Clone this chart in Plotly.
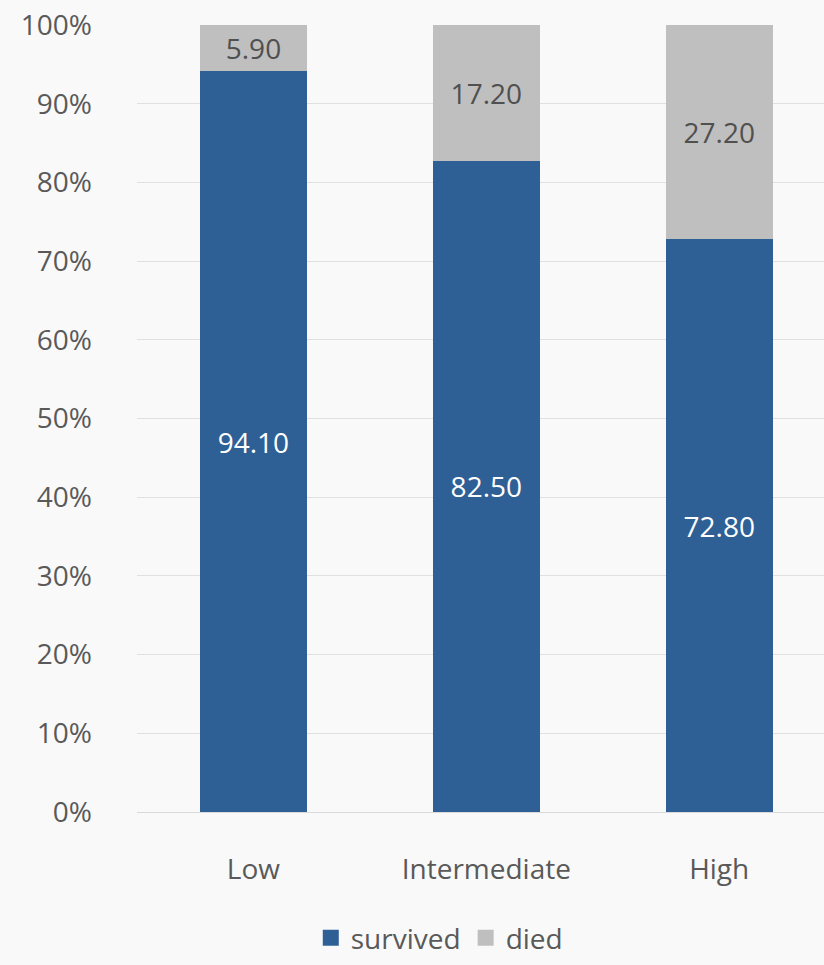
import plotly.graph_objects as go

categories = ["Low", "Intermediate", "High"]
survived = [94.10, 82.50, 72.80]
died = [5.90, 17.20, 27.20]
y_ticks = [0, 10, 20, 30, 40, 50, 60, 70, 80, 90, 100]
y_tick_labels = [f"{v}%" for v in y_ticks]

FONT = "Open Sans"
TXT = "#595959"
BG = "#f9f9f9"
FS = 28
BLUE = "#2e6096"
GRAY = "#bfbfbf"

fig = go.Figure()
fig.add_trace(go.Bar(
    name="survived", x=categories, y=survived, legendgroup="s", showlegend=False,
    marker=dict(color=BLUE, line=dict(width=0)),
    text=[f"{v:.2f}" for v in survived], textposition="inside",
    insidetextanchor="middle",
    textfont=dict(color="#ffffff", size=FS, family=FONT),
))
fig.add_trace(go.Bar(
    name="died", x=categories, y=died, legendgroup="d", showlegend=False,
    marker=dict(color=GRAY, line=dict(width=0)),
    text=[f"{v:.2f}" for v in died], textposition="inside",
    insidetextanchor="middle",
    textfont=dict(color="#505050", size=FS, family=FONT),
))
# legend entries with larger square swatches
for name, col, grp in [("survived", BLUE, "s"), ("died", GRAY, "d")]:
    fig.add_trace(go.Scatter(
        name=name, x=[None], y=[None], mode="markers", legendgroup=grp,
        marker=dict(symbol="square", size=20, color=col, line=dict(width=0)),
        hoverinfo="skip",
    ))

fig.update_layout(
    barmode="stack",
    barnorm="percent",
    bargap=0.54,
    width=824, height=965,
    margin=dict(l=137, r=0, t=25, b=153),
    paper_bgcolor=BG, plot_bgcolor=BG,
    font=dict(family=FONT, color=TXT, size=FS),
    uniformtext=dict(mode=False),
    legend=dict(orientation="h", x=0.44, xanchor="center", y=-0.192, yanchor="bottom",
                font=dict(size=FS, color=TXT), traceorder="normal",
                itemwidth=30, itemsizing="trace", bgcolor="rgba(0,0,0,0)"),
    xaxis=dict(range=[-0.5, 2.45], showgrid=False, showline=False, ticks="",
               tickfont=dict(size=FS, color=TXT), ticklabelstandoff=38),
    yaxis=dict(range=[0, 100], tickvals=y_ticks, ticktext=y_tick_labels,
               showgrid=True, gridcolor="#e0e0e0", gridwidth=1,
               zeroline=True, zerolinecolor="#d9d9d9", zerolinewidth=1,
               showline=False, ticks="", tickfont=dict(size=FS, color=TXT),
               ticklabelstandoff=44),
)

fig.write_html("out.html")
